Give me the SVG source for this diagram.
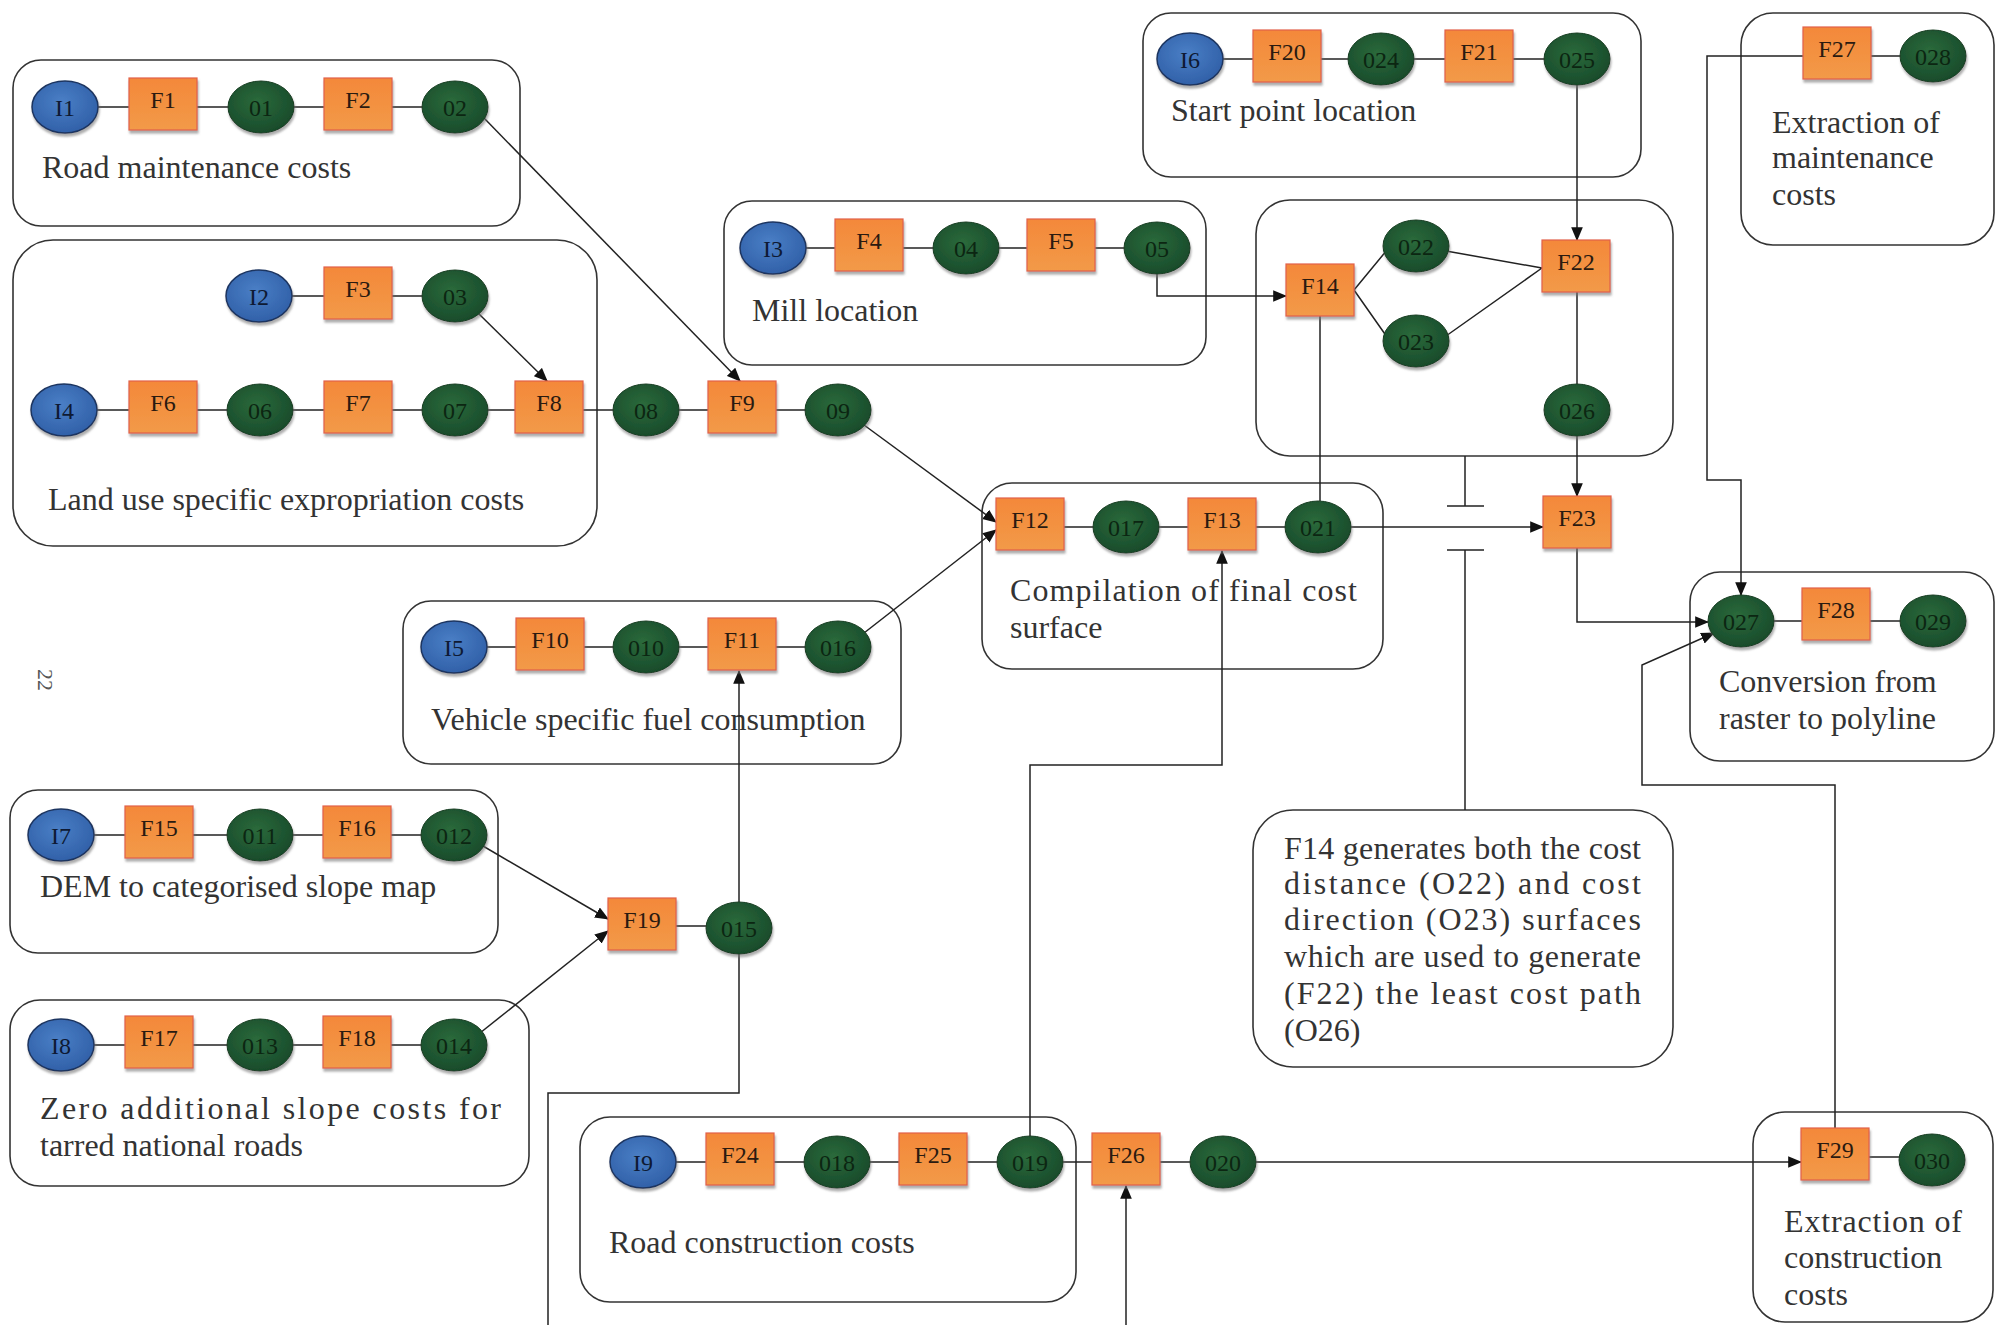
<svg xmlns="http://www.w3.org/2000/svg" width="1998" height="1325" viewBox="0 0 1998 1325">
<defs>
<style>
.box{fill:none;stroke:#333;stroke-width:1.6}
.in{fill:url(#gb);stroke:#1d3561;stroke-width:1.5;filter:url(#sh)}
.fn{fill:url(#go);stroke:#e2604a;stroke-width:1.2;filter:url(#sh)}
.out{fill:url(#gg);stroke:#163d21;stroke-width:1;filter:url(#sh)}
.lbl{font-family:"Liberation Serif",serif;font-size:24px;text-anchor:middle;fill:#2a1a10}
.ol{font-family:"Liberation Serif",serif;font-size:24px;text-anchor:middle;fill:#0c2612}
.il{font-family:"Liberation Serif",serif;font-size:24px;text-anchor:middle;fill:#0e1a33}
.ttl{font-family:"Liberation Serif",serif;font-size:32px;fill:#333}
.wire{stroke:#222;stroke-width:1.5;fill:none}
.arr{marker-end:url(#ah)}
</style>
<filter id="sh" x="-20%" y="-20%" width="140%" height="150%"><feDropShadow dx="1" dy="3" stdDeviation="1.3" flood-color="#777" flood-opacity="0.6"/></filter>
<radialGradient id="gg" cx="45%" cy="40%" r="65%"><stop offset="0" stop-color="#2b6a3b"/><stop offset="1" stop-color="#17492a"/></radialGradient>
<radialGradient id="gb" cx="45%" cy="40%" r="65%"><stop offset="0" stop-color="#4a7fc6"/><stop offset="1" stop-color="#2f5ea6"/></radialGradient>
<linearGradient id="go" x1="0" y1="0" x2="0" y2="1"><stop offset="0" stop-color="#f4883a"/><stop offset="1" stop-color="#f29a48"/></linearGradient>
<marker id="ah" viewBox="0 0 12 10" refX="11" refY="5" markerWidth="14" markerHeight="12" markerUnits="userSpaceOnUse" orient="auto"><path d="M0,0 L12,5 L0,10 z" fill="#111"/></marker>
</defs>
<rect width="1998" height="1325" fill="#fff"/>
<text x="38" y="669" transform="rotate(90 38 669)" style="font-family:'Liberation Serif',serif;font-size:22px;fill:#555">22</text>

<!-- group boxes -->
<g id="box-road-maintenance"><rect class="box" x="13" y="60" width="507" height="166" rx="28"/><text class="ttl" x="42" y="178">Road maintenance costs</text></g>
<g id="box-land-use"><rect class="box" x="13" y="240" width="584" height="306" rx="40"/><text class="ttl" x="48" y="510">Land use specific expropriation costs</text></g>
<g id="box-mill"><rect class="box" x="724" y="201" width="482" height="164" rx="28"/><text class="ttl" x="752" y="321">Mill location</text></g>
<g id="box-start"><rect class="box" x="1143" y="13" width="498" height="164" rx="28"/><text class="ttl" x="1171" y="121">Start point location</text></g>
<g id="box-costpath"><rect class="box" x="1256" y="200" width="417" height="256" rx="34"/></g>
<g id="box-compilation"><rect class="box" x="982" y="483" width="401" height="186" rx="30"/><text class="ttl" x="1010" y="601" textLength="347" lengthAdjust="spacing">Compilation of final cost</text><text class="ttl" x="1010" y="638">surface</text></g>
<g id="box-extract-maint"><rect class="box" x="1741" y="13" width="253" height="232" rx="32"/><text class="ttl" x="1772" y="133">Extraction of</text><text class="ttl" x="1772" y="168">maintenance</text><text class="ttl" x="1772" y="205">costs</text></g>
<g id="box-conversion"><rect class="box" x="1690" y="572" width="304" height="189" rx="30"/><text class="ttl" x="1719" y="692">Conversion from</text><text class="ttl" x="1719" y="729">raster to polyline</text></g>
<g id="box-fuel"><rect class="box" x="403" y="601" width="498" height="163" rx="28"/><text class="ttl" x="431" y="730">Vehicle specific fuel consumption</text></g>
<g id="box-dem"><rect class="box" x="10" y="790" width="488" height="163" rx="28"/><text class="ttl" x="40" y="897">DEM to categorised slope map</text></g>
<g id="box-zero-slope"><rect class="box" x="10" y="1000" width="519" height="186" rx="30"/><text class="ttl" x="40" y="1119" textLength="461" lengthAdjust="spacing">Zero additional slope costs for</text><text class="ttl" x="40" y="1156">tarred national roads</text></g>
<g id="box-construction"><rect class="box" x="580" y="1117" width="496" height="185" rx="30"/><text class="ttl" x="609" y="1253">Road construction costs</text></g>
<g id="box-extract-constr"><rect class="box" x="1753" y="1112" width="240" height="210" rx="32"/><text class="ttl" x="1784" y="1232" textLength="178" lengthAdjust="spacing">Extraction of</text><text class="ttl" x="1784" y="1268">construction</text><text class="ttl" x="1784" y="1305">costs</text></g>
<g id="box-note"><rect class="box" x="1253" y="810" width="420" height="257" rx="40"/>
<text class="ttl" x="1284" y="859" textLength="357" lengthAdjust="spacing">F14 generates both the cost</text>
<text class="ttl" x="1284" y="894" textLength="357" lengthAdjust="spacing">distance (O22) and cost</text>
<text class="ttl" x="1284" y="930" textLength="357" lengthAdjust="spacing">direction (O23) surfaces</text>
<text class="ttl" x="1284" y="967" textLength="357" lengthAdjust="spacing">which are used to generate</text>
<text class="ttl" x="1284" y="1004" textLength="357" lengthAdjust="spacing">(F22) the least cost path</text>
<text class="ttl" x="1284" y="1041">(O26)</text></g>

<!-- connectors -->
<g id="connectors">
<path class="wire" d="M65,107 H455"/>
<path class="wire" d="M259,296 H455"/>
<path class="wire" d="M64,410 H838"/>
<path class="wire" d="M773,248 H1157"/>
<path class="wire" d="M1190,59 H1577"/>
<path class="wire" d="M1030,527 H1318"/>
<path class="wire" d="M454,647 H838"/>
<path class="wire" d="M61,835 H454"/>
<path class="wire" d="M642,926 H739"/>
<path class="wire" d="M61,1045 H454"/>
<path class="wire" d="M643,1162 H1223"/>
<path class="wire" d="M1837,56 H1933"/>
<path class="wire" d="M1741,621 H1933"/>
<path class="wire" d="M1835,1157 H1932"/>
<path class="wire arr" d="M484,118 L740,381"/>
<path class="wire arr" d="M478,313 L547,381"/>
<path class="wire arr" d="M864,425 L996,522"/>
<path class="wire arr" d="M864,633 L996,530"/>
<path class="wire arr" d="M1157,274 V296 H1286"/>
<path class="wire arr" d="M1577,85 V240"/>
<path class="wire" d="M1354,290 L1387,250 M1354,290 L1387,337"/>
<path class="wire" d="M1446,251 L1542,268 M1446,336 L1542,268"/>
<path class="wire" d="M1577,292 V384"/>
<path class="wire arr" d="M1577,436 V496"/>
<path class="wire" d="M1320,316 V501"/>
<path class="wire arr" d="M1351,527 H1543"/>
<path class="wire arr" d="M1577,548 V622 H1708"/>
<path class="wire arr" d="M1803,56 H1707 V480 H1741 V595"/>
<path class="wire arr" d="M1835,1128 V785 H1642 V665 L1714,633"/>
<path class="wire arr" d="M483,846 L608,919"/>
<path class="wire arr" d="M480,1033 L608,931"/>
<path class="wire arr" d="M739,902 V671"/>
<path class="wire" d="M739,954 V1093 H548 V1325"/>
<path class="wire arr" d="M1030,1136 V765 H1222 V551"/>
<path class="wire arr" d="M1126,1325 V1186"/>
<path class="wire arr" d="M1256,1162 H1801"/>
<path class="wire" d="M1465,456 V506 M1447,506 H1484 M1447,550 H1484 M1465,550 V810"/>
</g>

<!-- nodes -->
<g id="n-I1"><ellipse class="in" cx="65" cy="107" rx="33" ry="26"/><text class="il" x="65" y="116">I1</text></g>
<g id="n-F1"><rect class="fn" x="129" y="78" width="68" height="52"/><text class="lbl" x="163" y="108">F1</text></g>
<g id="n-01"><ellipse class="out" cx="261" cy="107" rx="33" ry="26"/><text class="ol" x="261" y="116">01</text></g>
<g id="n-F2"><rect class="fn" x="324" y="78" width="68" height="52"/><text class="lbl" x="358" y="108">F2</text></g>
<g id="n-02"><ellipse class="out" cx="455" cy="107" rx="33" ry="26"/><text class="ol" x="455" y="116">02</text></g>

<g id="n-I2"><ellipse class="in" cx="259" cy="296" rx="33" ry="26"/><text class="il" x="259" y="305">I2</text></g>
<g id="n-F3"><rect class="fn" x="324" y="267" width="68" height="52"/><text class="lbl" x="358" y="297">F3</text></g>
<g id="n-03"><ellipse class="out" cx="455" cy="296" rx="33" ry="26"/><text class="ol" x="455" y="305">03</text></g>

<g id="n-I4"><ellipse class="in" cx="64" cy="410" rx="33" ry="26"/><text class="il" x="64" y="419">I4</text></g>
<g id="n-F6"><rect class="fn" x="129" y="381" width="68" height="52"/><text class="lbl" x="163" y="411">F6</text></g>
<g id="n-06"><ellipse class="out" cx="260" cy="410" rx="33" ry="26"/><text class="ol" x="260" y="419">06</text></g>
<g id="n-F7"><rect class="fn" x="324" y="381" width="68" height="52"/><text class="lbl" x="358" y="411">F7</text></g>
<g id="n-07"><ellipse class="out" cx="455" cy="410" rx="33" ry="26"/><text class="ol" x="455" y="419">07</text></g>
<g id="n-F8"><rect class="fn" x="515" y="381" width="68" height="52"/><text class="lbl" x="549" y="411">F8</text></g>
<g id="n-08"><ellipse class="out" cx="646" cy="410" rx="33" ry="26"/><text class="ol" x="646" y="419">08</text></g>
<g id="n-F9"><rect class="fn" x="708" y="381" width="68" height="52"/><text class="lbl" x="742" y="411">F9</text></g>
<g id="n-09"><ellipse class="out" cx="838" cy="410" rx="33" ry="26"/><text class="ol" x="838" y="419">09</text></g>

<g id="n-I3"><ellipse class="in" cx="773" cy="248" rx="33" ry="26"/><text class="il" x="773" y="257">I3</text></g>
<g id="n-F4"><rect class="fn" x="835" y="219" width="68" height="52"/><text class="lbl" x="869" y="249">F4</text></g>
<g id="n-04"><ellipse class="out" cx="966" cy="248" rx="33" ry="26"/><text class="ol" x="966" y="257">04</text></g>
<g id="n-F5"><rect class="fn" x="1027" y="219" width="68" height="52"/><text class="lbl" x="1061" y="249">F5</text></g>
<g id="n-05"><ellipse class="out" cx="1157" cy="248" rx="33" ry="26"/><text class="ol" x="1157" y="257">05</text></g>

<g id="n-I6"><ellipse class="in" cx="1190" cy="59" rx="33" ry="26"/><text class="il" x="1190" y="68">I6</text></g>
<g id="n-F20"><rect class="fn" x="1253" y="30" width="68" height="52"/><text class="lbl" x="1287" y="60">F20</text></g>
<g id="n-024"><ellipse class="out" cx="1381" cy="59" rx="33" ry="26"/><text class="ol" x="1381" y="68">024</text></g>
<g id="n-F21"><rect class="fn" x="1445" y="30" width="68" height="52"/><text class="lbl" x="1479" y="60">F21</text></g>
<g id="n-025"><ellipse class="out" cx="1577" cy="59" rx="33" ry="26"/><text class="ol" x="1577" y="68">025</text></g>

<g id="n-F14"><rect class="fn" x="1286" y="264" width="68" height="52"/><text class="lbl" x="1320" y="294">F14</text></g>
<g id="n-022"><ellipse class="out" cx="1416" cy="246" rx="33" ry="26"/><text class="ol" x="1416" y="255">022</text></g>
<g id="n-023"><ellipse class="out" cx="1416" cy="341" rx="33" ry="26"/><text class="ol" x="1416" y="350">023</text></g>
<g id="n-F22"><rect class="fn" x="1542" y="240" width="68" height="52"/><text class="lbl" x="1576" y="270">F22</text></g>
<g id="n-026"><ellipse class="out" cx="1577" cy="410" rx="33" ry="26"/><text class="ol" x="1577" y="419">026</text></g>

<g id="n-F12"><rect class="fn" x="996" y="498" width="68" height="52"/><text class="lbl" x="1030" y="528">F12</text></g>
<g id="n-017"><ellipse class="out" cx="1126" cy="527" rx="33" ry="26"/><text class="ol" x="1126" y="536">017</text></g>
<g id="n-F13"><rect class="fn" x="1188" y="498" width="68" height="52"/><text class="lbl" x="1222" y="528">F13</text></g>
<g id="n-021"><ellipse class="out" cx="1318" cy="527" rx="33" ry="26"/><text class="ol" x="1318" y="536">021</text></g>
<g id="n-F23"><rect class="fn" x="1543" y="496" width="68" height="52"/><text class="lbl" x="1577" y="526">F23</text></g>

<g id="n-F27"><rect class="fn" x="1803" y="27" width="68" height="52"/><text class="lbl" x="1837" y="57">F27</text></g>
<g id="n-028"><ellipse class="out" cx="1933" cy="56" rx="33" ry="26"/><text class="ol" x="1933" y="65">028</text></g>

<g id="n-027"><ellipse class="out" cx="1741" cy="621" rx="33" ry="26"/><text class="ol" x="1741" y="630">027</text></g>
<g id="n-F28"><rect class="fn" x="1802" y="588" width="68" height="52"/><text class="lbl" x="1836" y="618">F28</text></g>
<g id="n-029"><ellipse class="out" cx="1933" cy="621" rx="33" ry="26"/><text class="ol" x="1933" y="630">029</text></g>

<g id="n-I5"><ellipse class="in" cx="454" cy="647" rx="33" ry="26"/><text class="il" x="454" y="656">I5</text></g>
<g id="n-F10"><rect class="fn" x="516" y="618" width="68" height="52"/><text class="lbl" x="550" y="648">F10</text></g>
<g id="n-010"><ellipse class="out" cx="646" cy="647" rx="33" ry="26"/><text class="ol" x="646" y="656">010</text></g>
<g id="n-F11"><rect class="fn" x="708" y="618" width="68" height="52"/><text class="lbl" x="742" y="648">F11</text></g>
<g id="n-016"><ellipse class="out" cx="838" cy="647" rx="33" ry="26"/><text class="ol" x="838" y="656">016</text></g>

<g id="n-I7"><ellipse class="in" cx="61" cy="835" rx="33" ry="26"/><text class="il" x="61" y="844">I7</text></g>
<g id="n-F15"><rect class="fn" x="125" y="806" width="68" height="52"/><text class="lbl" x="159" y="836">F15</text></g>
<g id="n-011"><ellipse class="out" cx="260" cy="835" rx="33" ry="26"/><text class="ol" x="260" y="844">011</text></g>
<g id="n-F16"><rect class="fn" x="323" y="806" width="68" height="52"/><text class="lbl" x="357" y="836">F16</text></g>
<g id="n-012"><ellipse class="out" cx="454" cy="835" rx="33" ry="26"/><text class="ol" x="454" y="844">012</text></g>

<g id="n-F19"><rect class="fn" x="608" y="898" width="68" height="52"/><text class="lbl" x="642" y="928">F19</text></g>
<g id="n-015"><ellipse class="out" cx="739" cy="928" rx="33" ry="26"/><text class="ol" x="739" y="937">015</text></g>

<g id="n-I8"><ellipse class="in" cx="61" cy="1045" rx="33" ry="26"/><text class="il" x="61" y="1054">I8</text></g>
<g id="n-F17"><rect class="fn" x="125" y="1016" width="68" height="52"/><text class="lbl" x="159" y="1046">F17</text></g>
<g id="n-013"><ellipse class="out" cx="260" cy="1045" rx="33" ry="26"/><text class="ol" x="260" y="1054">013</text></g>
<g id="n-F18"><rect class="fn" x="323" y="1016" width="68" height="52"/><text class="lbl" x="357" y="1046">F18</text></g>
<g id="n-014"><ellipse class="out" cx="454" cy="1045" rx="33" ry="26"/><text class="ol" x="454" y="1054">014</text></g>

<g id="n-I9"><ellipse class="in" cx="643" cy="1162" rx="33" ry="26"/><text class="il" x="643" y="1171">I9</text></g>
<g id="n-F24"><rect class="fn" x="706" y="1133" width="68" height="52"/><text class="lbl" x="740" y="1163">F24</text></g>
<g id="n-018"><ellipse class="out" cx="837" cy="1162" rx="33" ry="26"/><text class="ol" x="837" y="1171">018</text></g>
<g id="n-F25"><rect class="fn" x="899" y="1133" width="68" height="52"/><text class="lbl" x="933" y="1163">F25</text></g>
<g id="n-019"><ellipse class="out" cx="1030" cy="1162" rx="33" ry="26"/><text class="ol" x="1030" y="1171">019</text></g>
<g id="n-F26"><rect class="fn" x="1092" y="1133" width="68" height="52"/><text class="lbl" x="1126" y="1163">F26</text></g>
<g id="n-020"><ellipse class="out" cx="1223" cy="1162" rx="33" ry="26"/><text class="ol" x="1223" y="1171">020</text></g>

<g id="n-F29"><rect class="fn" x="1801" y="1128" width="68" height="52"/><text class="lbl" x="1835" y="1158">F29</text></g>
<g id="n-030"><ellipse class="out" cx="1932" cy="1160" rx="33" ry="26"/><text class="ol" x="1932" y="1169">030</text></g>
</svg>
